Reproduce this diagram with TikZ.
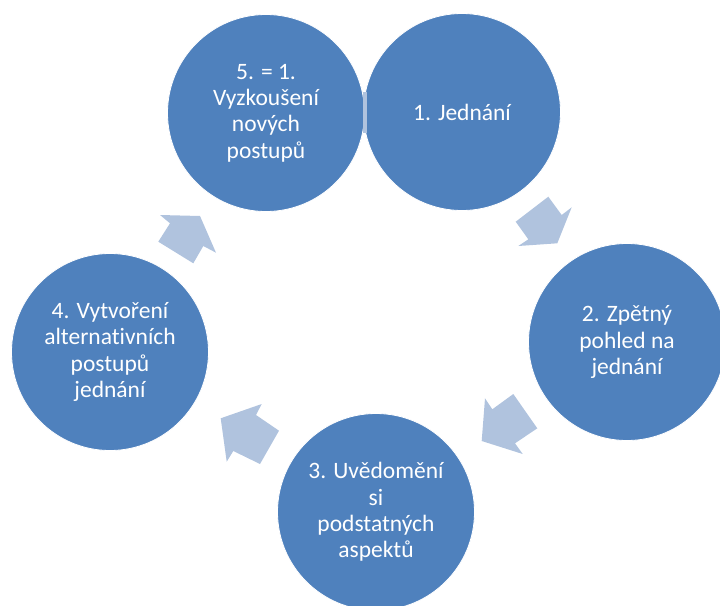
\documentclass[tikz,border=0pt]{standalone}
\usepackage{fontspec}
\setmainfont{Carlito}[RawFeature=-liga]
\definecolor{cblue}{HTML}{4F81BD}
\definecolor{alight}{HTML}{B0C3DE}
\tikzset{
  stage/.style={circle, minimum size=197pt, inner sep=0pt, fill=cblue, draw=white, line width=0.8pt,
    text=white, align=center, font=\fontsize{23.5}{26.3}\selectfont},
  blockarrow/.style={fill=alight, draw=none}
}
\begin{document}
\begin{tikzpicture}[x=1pt,y=-1pt]
\useasboundingbox (0,0) rectangle (720,605);
\clip (0,0) rectangle (720,605);
% block arrows
\fill[blockarrow] (548.3,196.7) -- (561.7,215) -- (571.7,207.3) -- (557.3,243.3) -- (518.3,246) -- (528.3,239.3) -- (515.7,221.7) -- cycle;
\fill[blockarrow] (513.3,394) -- (537.3,428.3) -- (515,443.3) -- (522.7,454) -- (481.7,441) -- (485,398.3) -- (492.3,409.3) -- cycle;
\fill[blockarrow] (261.7,404) -- (256,415) -- (279,430.7) -- (260,464) -- (233.3,451) -- (226.7,461.7) -- (220.7,418.3) -- cycle;
\fill[blockarrow] (200,216) -- (160,215) -- (170,223.3) -- (158.3,241.7) -- (193.3,263.3) -- (203.3,246) -- (216,252.7) -- cycle;
% stages
\node[stage] (s5) at (266,113) {5. = 1.\\Vyzkoušení\\nových\\postupů};
\node[stage] (s1) at (462,112) {1. Jednání};
\node[stage] (s2) at (627,342) {2. Zpětný\\pohled na\\jednání};
\node[stage] (s3) at (376,512) {3. Uvědomění\\si\\podstatných\\aspektů};
\node[stage] (s4) at (110,352) {4. Vytvoření\\alternativních\\postupů\\jednání};
% small hidden arrow between 5 and 1
\fill[blockarrow] (362.5,92) rectangle (366.5,133);
\end{tikzpicture}
\end{document}
